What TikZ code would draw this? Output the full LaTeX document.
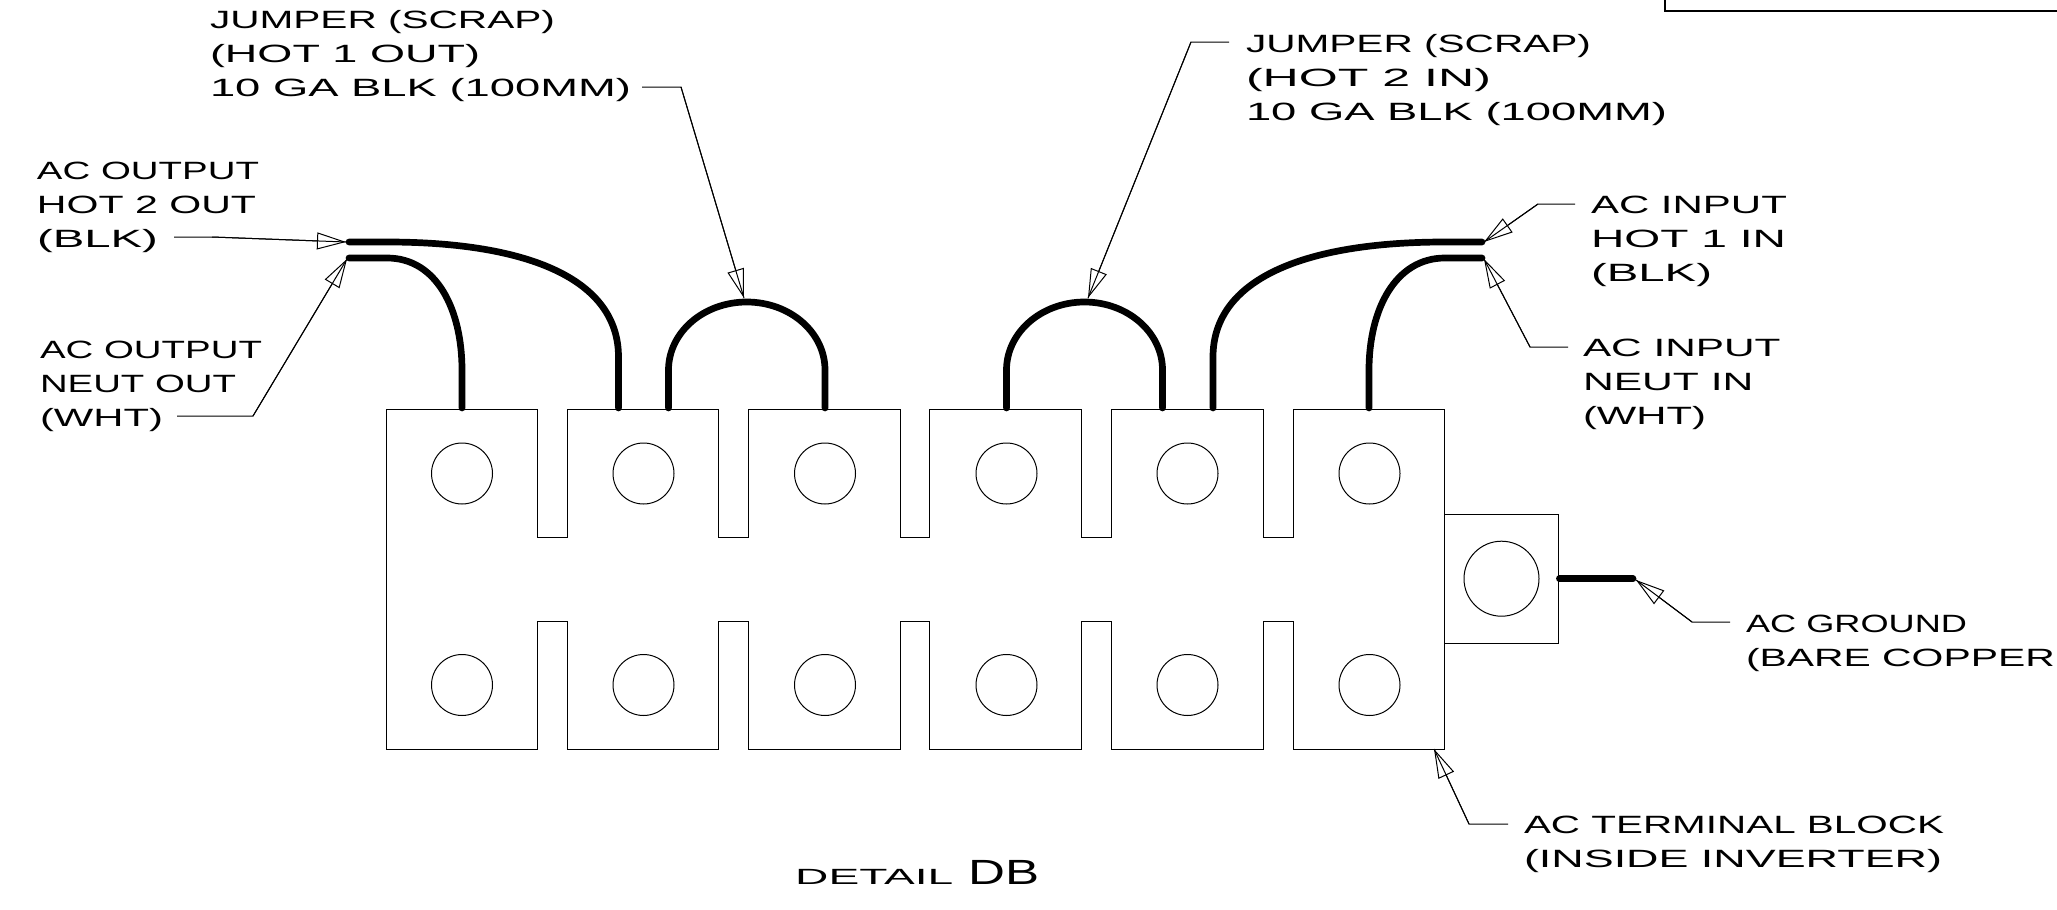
\documentclass[tikz,border=0pt]{standalone}
\usepackage{graphicx}
\usepackage{fontspec}
\usetikzlibrary{arrows.meta}
\setmainfont{Liberation Sans}
\tikzset{
  thin line/.style={line width=1pt,black},
  wire/.style={line width=6.7pt,black,line cap=round},
  leader/.style={line width=1pt,black},
  leadtip/.style={line width=1pt,black,-{Triangle[open,length=29pt,width=17pt]}},
  lab/.style={anchor=north west,inner sep=0pt,outer sep=0pt,align=left,font=\fontsize{25}{34}\selectfont},
  stud/.style={circle,draw,line width=1pt,inner sep=0pt,minimum size=61pt},
}
\newcommand{\callout}[3]{\draw[leader] (#1) -- (#2) -- (#3); \draw[leadtip] (#2) -- (#3);}
\newcommand{\wline}[2]{\rule{0pt}{18pt}\resizebox{#1pt}{\height}{#2}}
\begin{document}
\begin{tikzpicture}[x=1pt,y=-1pt]
\useasboundingbox (0,0) rectangle (2057,910);
% terminal block
\draw[thin line] (386.5,409) -- (537.5,409) -- (537.5,537) -- (567.5,537) -- (567.5,409) -- (718.5,409) -- (718.5,537) -- (748.5,537) -- (748.5,409) -- (900.5,409) -- (900.5,537) -- (929.5,537) -- (929.5,409) -- (1081.5,409) -- (1081.5,537) -- (1111.5,537) -- (1111.5,409) -- (1263,409) -- (1263,537) -- (1293.5,537) -- (1293.5,409) -- (1444.5,409) -- (1444.5,749)
 -- (1293.5,749) -- (1293.5,621) -- (1263,621) -- (1263,749) -- (1111.5,749) -- (1111.5,621) -- (1081.5,621) -- (1081.5,749) -- (929.5,749) -- (929.5,621) -- (900.5,621) -- (900.5,749) -- (748.5,749) -- (748.5,621) -- (718.5,621) -- (718.5,749) -- (567.5,749) -- (567.5,621) -- (537.5,621) -- (537.5,749) -- (386.5,749) -- cycle;
\foreach \n/\x in {a/462,b/643.5,c/825,d/1006.5,e/1187.5,f/1369.5}{
  \node[stud] (top\n) at (\x,473.5) {};
  \node[stud] (bot\n) at (\x,685) {};
}
\draw[thin line] (1444.5,514) -- (1558,514) -- (1558,643) -- (1444.5,643);
\node[stud,minimum size=75pt] (gstud) at (1501.5,578.7) {};
% title-block corner
\draw[line width=1.2pt,black] (1665,0) -- (1665,11) -- (2057,11);
% wires
\draw[wire] (349,258) -- (387,258) .. controls (437,258) and (462,310) .. (462,370) -- (462,408);
\draw[wire] (349,242) -- (387,242) .. controls (530,242) and (618.5,280) .. (618.5,357) -- (618.5,408);
\draw[wire] (668.5,408) -- (668.5,370) .. controls (668.5,332.4) and (703.5,302) .. (746.7,302) .. controls (790,302) and (825,332.4) .. (825,370) -- (825,408);
\draw[wire] (1006.5,408) -- (1006.5,370) .. controls (1006.5,332.4) and (1041.5,302) .. (1084.5,302) .. controls (1127.5,302) and (1162.5,332.4) .. (1162.5,370) -- (1162.5,408);
\draw[wire] (1482,242) -- (1445,242) .. controls (1302,242) and (1213,280) .. (1213,357) -- (1213,408);
\draw[wire] (1482,258) -- (1445,258) .. controls (1395,258) and (1369,310) .. (1369,370) -- (1369,408);
\draw[wire] (1559.4,578.7) -- (1633,578.7);
% labels
\node[lab] (jhot1) at (210,10) {\wline{345}{JUMPER (SCRAP)}\\\wline{270}{(HOT 1 OUT)}\\\wline{421}{10 GA BLK (100MM)}};
\node[lab] (outhot) at (37,161) {\wline{222}{AC OUTPUT}\\\wline{219}{HOT 2 OUT}\\\wline{121}{(BLK)}};
\node[lab] (outneut) at (40,340) {\wline{222}{AC OUTPUT}\\\wline{196}{NEUT OUT}\\\wline{123}{(WHT)}};
\node[lab] (jhot2) at (1246,34) {\wline{345}{JUMPER (SCRAP)}\\\wline{245}{(HOT 2 IN)}\\\wline{421}{10 GA BLK (100MM)}};
\node[lab] (inhot) at (1591,195) {\wline{196}{AC INPUT}\\\wline{195}{HOT 1 IN}\\\wline{121}{(BLK)}};
\node[lab] (inneut) at (1583,338) {\wline{197.5}{AC INPUT}\\\wline{170.5}{NEUT IN}\\\wline{123}{(WHT)}};
\node[lab] (gnd) at (1746,614) {\wline{221}{AC GROUND}\\\wline{329}{(BARE COPPER\hspace{4pt})}};
\node[lab] (tb) at (1524,815) {\wline{420}{AC TERMINAL BLOCK}\\\wline{418}{(INSIDE INVERTER)}};
\node[anchor=base west,inner sep=0pt] (title) at (795,884) {\fontsize{22}{26}\selectfont\resizebox{158pt}{\height}{DETAIL}\hspace{15pt}\fontsize{35}{40}\selectfont\resizebox{71pt}{\height}{DB}};
% callouts
\coordinate (s1) at (642,87); \coordinate (e1) at (681,87); \coordinate (t1) at (744,298);
\coordinate (s2) at (174,237); \coordinate (e2) at (212,237); \coordinate (t2) at (346,242);
\coordinate (s3) at (177,416); \coordinate (e3) at (253,416); \coordinate (t3) at (347,259);
\coordinate (s4) at (1229,42); \coordinate (e4) at (1191,42); \coordinate (t4) at (1088,298);
\coordinate (s5) at (1575,204); \coordinate (e5) at (1538,204); \coordinate (t5) at (1484,242);
\coordinate (s6) at (1568,347); \coordinate (e6) at (1530,347); \coordinate (t6) at (1484,259);
\coordinate (s7) at (1730,622); \coordinate (e7) at (1692,622); \coordinate (t7) at (1636,580);
\coordinate (s8) at (1508,824); \coordinate (e8) at (1469,824); \coordinate (t8) at (1434,749);
\callout{s1}{e1}{t1}
\callout{s2}{e2}{t2}
\callout{s3}{e3}{t3}
\callout{s4}{e4}{t4}
\callout{s5}{e5}{t5}
\callout{s6}{e6}{t6}
\callout{s7}{e7}{t7}
\callout{s8}{e8}{t8}
\end{tikzpicture}
\end{document}
